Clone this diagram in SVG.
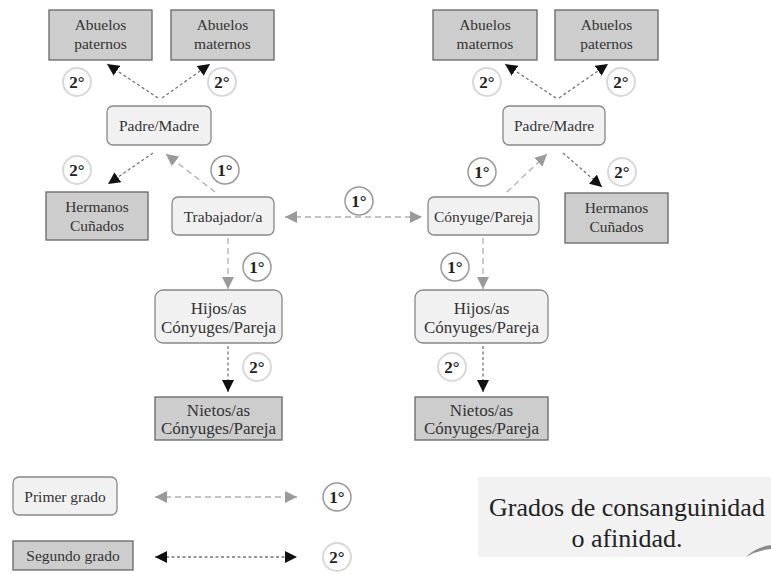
<svg xmlns="http://www.w3.org/2000/svg" width="771" height="574" viewBox="0 0 771 574">
<style>
.g2 rect{fill:#cdcdcd;stroke:#666;stroke-width:1.3}
.g1 rect{fill:#f1f1f1;stroke:#888;stroke-width:1.3}
text{font-family:"Liberation Serif","DejaVu Serif",serif;font-size:15.5px;fill:#333;text-anchor:middle}
.big text{font-size:17px}
.c1 circle{fill:#fff;stroke:#999;stroke-width:1.5}
.c2 circle{fill:#fff;stroke:#d8d8d8;stroke-width:2}
.c text{font-size:17px;font-weight:bold;fill:#222}
.l1{stroke:#b0b0b0;stroke-width:1.3;stroke-dasharray:6 4;fill:none;marker-end:url(#a1)}
.l2{stroke:#777;stroke-width:1.3;stroke-dasharray:3 2.5;fill:none;marker-end:url(#a2)}
.b1{marker-start:url(#a1)}
.b2{marker-start:url(#a2)}
.t{font-size:26px;fill:#222}
</style>
<defs>
<marker id="a1" markerUnits="userSpaceOnUse" markerWidth="12" markerHeight="12" refX="10" refY="5" orient="auto-start-reverse" viewBox="0 0 10 10"><path d="M0,0 L10,5 L0,10 z" fill="#9a9a9a"/></marker>
<marker id="a2" markerUnits="userSpaceOnUse" markerWidth="12" markerHeight="12" refX="10" refY="5" orient="auto-start-reverse" viewBox="0 0 10 10"><path d="M0,0 L10,5 L0,10 z" fill="#111"/></marker>
</defs>
<rect width="771" height="574" fill="#fff"/>
<g id="connectors">
<line class="l2" x1="158" y1="98" x2="107" y2="64"/>
<line class="l2" x1="162" y1="98" x2="210" y2="64"/>
<line class="l2" x1="153" y1="153" x2="108" y2="184"/>
<line class="l1" x1="215" y1="192" x2="166" y2="154"/>
<line class="l1 b1" x1="285" y1="217" x2="422" y2="217"/>
<line class="l1" x1="228" y1="238" x2="228" y2="289"/>
<line class="l2" x1="228" y1="346" x2="228" y2="392"/>
<line class="l2" x1="556" y1="98" x2="505" y2="64"/>
<line class="l2" x1="559" y1="98" x2="608" y2="64"/>
<line class="l1" x1="507" y1="192" x2="547" y2="154"/>
<line class="l2" x1="563" y1="153" x2="602" y2="187"/>
<line class="l1" x1="483" y1="238" x2="483" y2="289"/>
<line class="l2" x1="483" y1="346" x2="483" y2="392"/>
<line class="l1 b1" x1="155" y1="497" x2="297" y2="497"/>
<line class="l2 b2" x1="155" y1="557" x2="297" y2="557"/>
</g>
<g id="abuelos-paternos-l" class="g2"><rect x="49" y="10" width="103" height="50"/><text x="100.5" y="30">Abuelos</text><text x="100.5" y="49">paternos</text></g>
<g id="abuelos-maternos-l" class="g2"><rect x="171" y="10" width="103" height="50"/><text x="222.5" y="30">Abuelos</text><text x="222.5" y="49">maternos</text></g>
<g id="padre-madre-l" class="g1"><rect x="107" y="106" width="104" height="39" rx="6"/><text x="159" y="131">Padre/Madre</text></g>
<g id="hermanos-l" class="g2"><rect x="46" y="192" width="102" height="48"/><text x="97" y="212">Hermanos</text><text x="97" y="231">Cuñados</text></g>
<g id="trabajador" class="g1"><rect x="172" y="197" width="102" height="38" rx="6"/><text x="223" y="222">Trabajador/a</text></g>
<g id="conyuge" class="g1"><rect x="428" y="197" width="111" height="38" rx="6"/><text x="483.5" y="222">Cónyuge/Pareja</text></g>
<g id="abuelos-maternos-r" class="g2"><rect x="433" y="10" width="104" height="50"/><text x="485" y="30">Abuelos</text><text x="485" y="49">maternos</text></g>
<g id="abuelos-paternos-r" class="g2"><rect x="555" y="10" width="103" height="50"/><text x="606.5" y="30">Abuelos</text><text x="606.5" y="49">paternos</text></g>
<g id="padre-madre-r" class="g1"><rect x="503" y="106" width="102" height="39" rx="6"/><text x="554" y="131">Padre/Madre</text></g>
<g id="hermanos-r" class="g2"><rect x="565" y="193" width="103" height="50"/><text x="616.5" y="213">Hermanos</text><text x="616.5" y="232">Cuñados</text></g>
<g id="hijos-l" class="g1 big"><rect x="155" y="290" width="127" height="53" rx="8"/><text x="218.5" y="314">Hijos/as</text><text x="218.5" y="333">Cónyuges/Pareja</text></g>
<g id="hijos-r" class="g1 big"><rect x="415" y="290" width="133" height="53" rx="8"/><text x="481.5" y="314">Hijos/as</text><text x="481.5" y="333">Cónyuges/Pareja</text></g>
<g id="nietos-l" class="g2 big"><rect x="155" y="397" width="127" height="43"/><text x="218.5" y="416">Nietos/as</text><text x="218.5" y="434">Cónyuges/Pareja</text></g>
<g id="nietos-r" class="g2 big"><rect x="415" y="397" width="133" height="43"/><text x="481.5" y="416">Nietos/as</text><text x="481.5" y="434">Cónyuges/Pareja</text></g>
<g id="legend-primer" class="g1"><rect x="13" y="477" width="104" height="38" rx="6"/><text x="65" y="502">Primer grado</text></g>
<g id="legend-segundo" class="g2"><rect x="13" y="541" width="120" height="29"/><text x="73" y="561">Segundo grado</text></g>
<g id="badges" class="c">
<g class="c2"><circle cx="77" cy="82" r="14"/><text x="77" y="88">2°</text></g>
<g class="c2"><circle cx="222" cy="82" r="14"/><text x="222" y="88">2°</text></g>
<g class="c2"><circle cx="77" cy="170" r="14"/><text x="77" y="176">2°</text></g>
<g class="c1"><circle cx="225" cy="170" r="14"/><text x="225" y="176">1°</text></g>
<g class="c1"><circle cx="359" cy="201" r="14"/><text x="359" y="207">1°</text></g>
<g class="c2"><circle cx="487" cy="82" r="14"/><text x="487" y="88">2°</text></g>
<g class="c2"><circle cx="621" cy="82" r="14"/><text x="621" y="88">2°</text></g>
<g class="c1"><circle cx="482" cy="172" r="14"/><text x="482" y="178">1°</text></g>
<g class="c2"><circle cx="622" cy="172" r="14"/><text x="622" y="178">2°</text></g>
<g class="c1"><circle cx="257" cy="267" r="14"/><text x="257" y="273">1°</text></g>
<g class="c1"><circle cx="455" cy="267" r="14"/><text x="455" y="273">1°</text></g>
<g class="c2"><circle cx="257" cy="367" r="14"/><text x="257" y="373">2°</text></g>
<g class="c2"><circle cx="452" cy="367" r="14"/><text x="452" y="373">2°</text></g>
<g class="c1"><circle cx="337" cy="497" r="14"/><text x="337" y="503">1°</text></g>
<g class="c2"><circle cx="337" cy="557" r="14"/><text x="337" y="563">2°</text></g>
</g>
<g id="title">
<path d="M478,477 H771 V545 Q758,545 746,557 H478 Z" fill="#f2f2f2"/>
<path d="M746,557 Q756,547 771,545 L771,549 Q758,550 746,557 Z" fill="#8a8a8a"/>
<text class="t" x="627" y="516">Grados de consanguinidad</text>
<text class="t" x="627" y="547">o afinidad.</text>
</g>
</svg>
